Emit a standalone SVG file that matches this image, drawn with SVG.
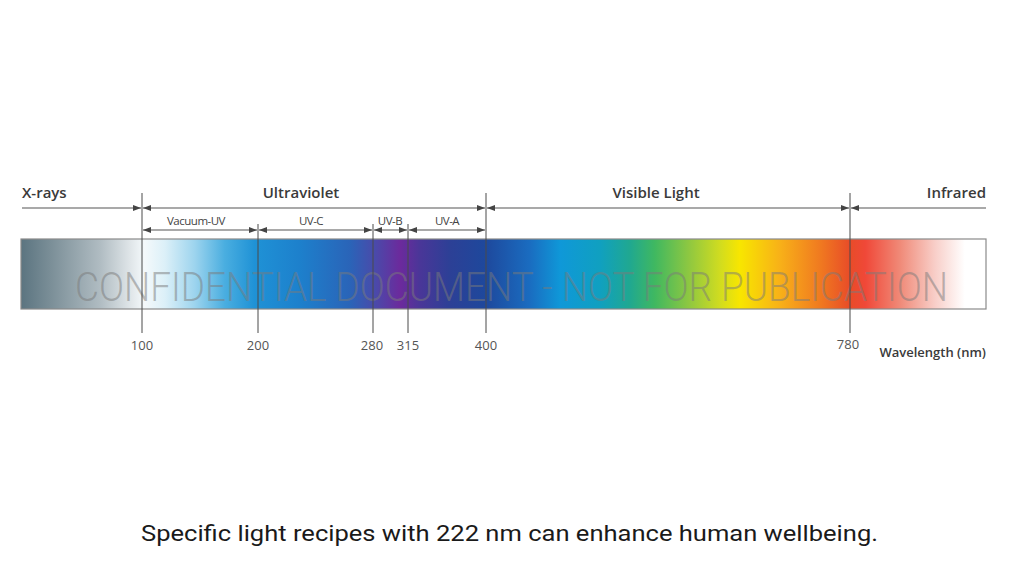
<svg xmlns="http://www.w3.org/2000/svg" width="1024" height="576" viewBox="0 0 1024 576">
<defs>
<linearGradient id="spec" x1="0" y1="0" x2="1" y2="0">
<stop offset="0" stop-color="#5b7480"/>
<stop offset="0.03" stop-color="#7a8e97"/>
<stop offset="0.082" stop-color="#b0bcc2"/>
<stop offset="0.113" stop-color="#dfe5e8"/>
<stop offset="0.128" stop-color="#f4f9fb"/>
<stop offset="0.149" stop-color="#dcf0f8"/>
<stop offset="0.18" stop-color="#9dd4ee"/>
<stop offset="0.211" stop-color="#4aaee0"/>
<stop offset="0.242" stop-color="#1f92d6"/>
<stop offset="0.289" stop-color="#1d80cc"/>
<stop offset="0.341" stop-color="#2a64b8"/>
<stop offset="0.367" stop-color="#4a4aaa"/>
<stop offset="0.393" stop-color="#6c2a9c"/>
<stop offset="0.413" stop-color="#4a3698"/>
<stop offset="0.445" stop-color="#2c4096"/>
<stop offset="0.481" stop-color="#1e489c"/>
<stop offset="0.527" stop-color="#1a6cc0"/>
<stop offset="0.559" stop-color="#0f98d8"/>
<stop offset="0.6" stop-color="#10a0c0"/>
<stop offset="0.631" stop-color="#20a890"/>
<stop offset="0.657" stop-color="#40b860"/>
<stop offset="0.693" stop-color="#90c840"/>
<stop offset="0.724" stop-color="#d0dc20"/>
<stop offset="0.745" stop-color="#f8e600"/>
<stop offset="0.787" stop-color="#f8b018"/>
<stop offset="0.828" stop-color="#f07a20"/>
<stop offset="0.859" stop-color="#e84c28"/>
<stop offset="0.875" stop-color="#f04838"/>
<stop offset="0.911" stop-color="#f08a78"/>
<stop offset="0.947" stop-color="#f8cec8"/>
<stop offset="0.978" stop-color="#ffffff"/>
<stop offset="1" stop-color="#ffffff"/>
</linearGradient>
<marker id="ah" viewBox="0 0 8 6" refX="8" refY="3" markerWidth="8" markerHeight="6" markerUnits="userSpaceOnUse" orient="auto-start-reverse">
<path d="M0,0 L8,3 L0,6 Z" fill="#444"/>
</marker>
</defs>
<style>
.lbl{font-family:"Open Sans","DejaVu Sans",sans-serif;font-weight:600;font-size:15px;fill:#3a3a3a}
.sub{font-family:"Open Sans","DejaVu Sans",sans-serif;font-size:11.5px;letter-spacing:-0.5px;fill:#444;text-anchor:middle}
.num{font-family:"Open Sans","DejaVu Sans",sans-serif;font-size:13px;fill:#555;text-anchor:middle}
.tick{stroke:#4a4a4a;stroke-width:1}
.dim{stroke:#555;stroke-width:1.2;fill:none}
</style>
<rect width="1024" height="576" fill="#ffffff"/>
<g id="spectrum-bar">
<rect x="21" y="239" width="965" height="70" fill="url(#spec)" stroke="#8a8a8a" stroke-width="1.2"/>
</g>
<g id="watermark">
<text x="75" y="301" textLength="873" lengthAdjust="spacingAndGlyphs" font-family="Roboto,'Liberation Sans',sans-serif" font-weight="300" font-size="40" fill="#7a7a7a" fill-opacity="0.5">CONFIDENTIAL DOCUMENT - NOT FOR PUBLICATION</text>
</g>
<g id="connectors">
<line class="tick" x1="142" y1="193" x2="142" y2="333"/>
<line class="tick" x1="258" y1="224" x2="258" y2="333"/>
<line class="tick" x1="373" y1="224" x2="373" y2="333"/>
<line class="tick" x1="408" y1="224" x2="408" y2="333"/>
<line class="tick" x1="486" y1="193" x2="486" y2="333"/>
<line class="tick" x1="850" y1="193" x2="850" y2="333"/>
<line class="dim" x1="22" y1="208" x2="141" y2="208" marker-end="url(#ah)"/>
<line class="dim" x1="143" y1="208" x2="485" y2="208" marker-start="url(#ah)" marker-end="url(#ah)"/>
<line class="dim" x1="487" y1="208" x2="849" y2="208" marker-start="url(#ah)" marker-end="url(#ah)"/>
<line class="dim" x1="851" y1="208" x2="986" y2="208" marker-start="url(#ah)"/>
<line class="dim" x1="143" y1="230" x2="257" y2="230" marker-start="url(#ah)" marker-end="url(#ah)"/>
<line class="dim" x1="259" y1="230" x2="372" y2="230" marker-start="url(#ah)" marker-end="url(#ah)"/>
<line class="dim" x1="374" y1="230" x2="407" y2="230" marker-start="url(#ah)" marker-end="url(#ah)"/>
<line class="dim" x1="409" y1="230" x2="485" y2="230" marker-start="url(#ah)" marker-end="url(#ah)"/>
</g>
<g id="band-labels">
<text class="lbl" x="22" y="198">X-rays</text>
<text class="lbl" x="301" y="198" text-anchor="middle">Ultraviolet</text>
<text class="lbl" x="656" y="198" text-anchor="middle">Visible Light</text>
<text class="lbl" x="986" y="198" text-anchor="end">Infrared</text>
</g>
<g id="sub-labels">
<text class="sub" x="196" y="225">Vacuum-UV</text>
<text class="sub" x="311" y="225">UV-C</text>
<text class="sub" x="390" y="225">UV-B</text>
<text class="sub" x="447" y="225">UV-A</text>
</g>
<g id="axis-labels">
<text class="num" x="142" y="350">100</text>
<text class="num" x="258" y="350">200</text>
<text class="num" x="372" y="350">280</text>
<text class="num" x="408" y="350">315</text>
<text class="num" x="486" y="350">400</text>
<text class="num" x="848" y="349">780</text>
<text x="986" y="357" text-anchor="end" font-family="'Open Sans','DejaVu Sans',sans-serif" font-weight="600" font-size="13" fill="#3a3a3a">Wavelength (nm)</text>
</g>
<g id="caption">
<text x="141" y="541" textLength="737" lengthAdjust="spacingAndGlyphs" font-family="Roboto,'Liberation Sans',sans-serif" font-size="22" fill="#1a1a1a">Specific light recipes with 222 nm can enhance human wellbeing.</text>
</g>
</svg>
